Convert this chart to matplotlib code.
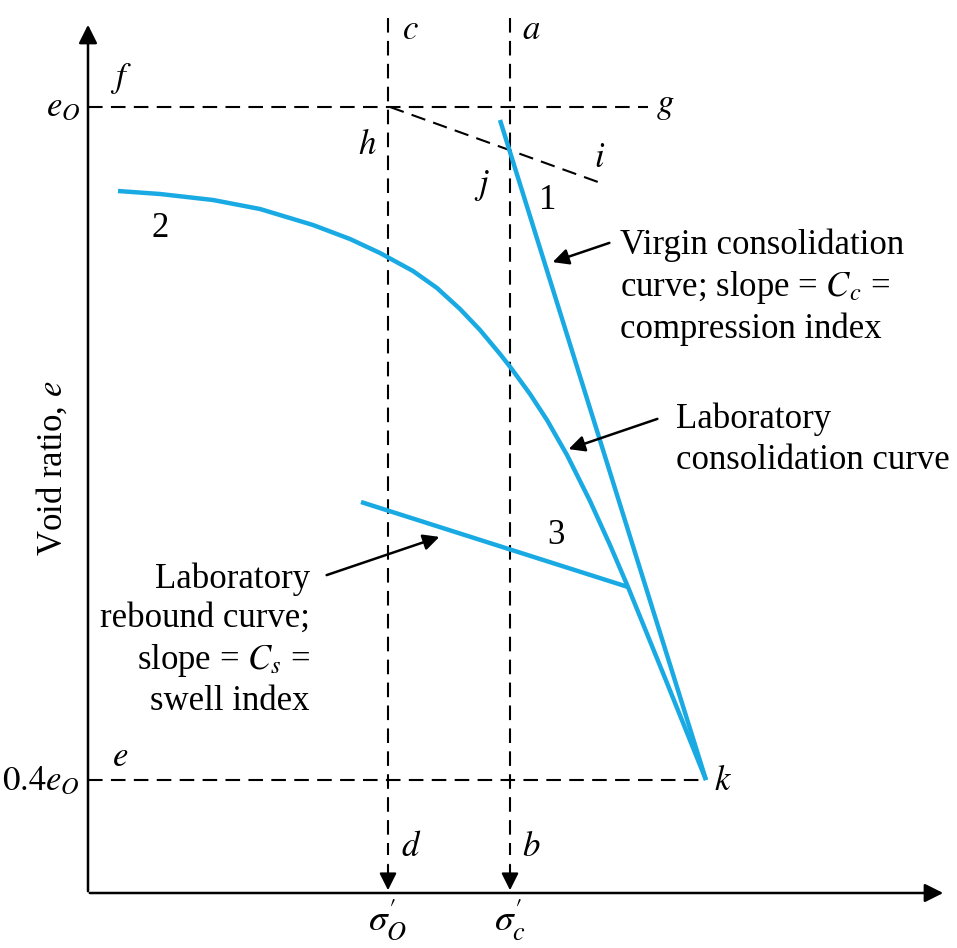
import matplotlib
matplotlib.use("Agg")
import matplotlib.pyplot as plt
import numpy as np

plt.rcParams['font.family'] = ['Liberation Serif', 'DejaVu Serif']
plt.rcParams['mathtext.fontset'] = 'stix'

# diagram coordinates (x to the right, y downward)
blue = '#1aaae3'

# laboratory consolidation curve (2)
lab_x = [118, 160, 213, 260, 313, 350, 380, 413, 437, 460, 480, 500, 511, 530, 547, 567, 590, 610, 628, 667, 706]
lab_y = [191, 194, 200, 209, 225, 239, 253, 271, 288, 309, 330, 354, 368, 394, 420, 455, 501, 545, 587, 683, 780]

# virgin consolidation curve (1)
virgin_x = [500, 706]
virgin_y = [120, 780]

# rebound curve (3)
rebound_x = [361, 628]
rebound_y = [502, 587]

# reference levels
e0_level = 107
e04_level = 780
sigma_o = 388
sigma_c = 510
hi_x = [390, 598]
hi_y = [107, 182]

fig = plt.figure(figsize=(9.57, 9.48), dpi=100)
ax = fig.add_axes([0, 0, 1, 1])
ax.set_xlim(0, 957)
ax.set_ylim(948, 0)
ax.axis('off')

fs = 25
dash = (0, (7, 4))

# axes with arrows
ax.annotate('', xy=(88, 22), xytext=(88, 894),
            arrowprops=dict(arrowstyle='-|>', lw=1.8, color='black', mutation_scale=28))
ax.annotate('', xy=(946, 893), xytext=(87, 893),
            arrowprops=dict(arrowstyle='-|>', lw=1.8, color='black', mutation_scale=28))

# horizontal dashed lines
ax.plot([88, 648], [e0_level, e0_level], color='black', lw=1.5, ls=dash)
ax.plot([88, 706], [e04_level, e04_level], color='black', lw=1.5, ls=dash)

# vertical dashed lines with arrowheads
for xv in [sigma_o, sigma_c]:
    ax.plot([xv, xv], [18, 855], color='black', lw=1.5, ls=dash)
    ax.annotate('', xy=(xv, 893), xytext=(xv, 862),
                arrowprops=dict(arrowstyle='-|>', lw=1.5, color='black', mutation_scale=26))

# h-i construction line
ax.plot(hi_x, hi_y, color='black', lw=1.5, ls=dash)

# curves
ax.plot(lab_x, lab_y, color=blue, lw=3.2, solid_capstyle='butt', solid_joinstyle='round')
ax.plot(virgin_x, virgin_y, color=blue, lw=3.2, solid_capstyle='butt')
ax.plot(rebound_x, rebound_y, color=blue, lw=3.2, solid_capstyle='butt')

# letter labels
letters = [('$c$', 402, 30), ('$a$', 522, 30), ('$f$', 110, 78), ('$g$', 656, 105),
           ('$h$', 358, 145), ('$i$', 594, 158), ('$j$', 474, 185), ('$e$', 112, 758),
           ('$k$', 714, 782), ('$d$', 401, 848), ('$b$', 522, 848)]
for s, x, y in letters:
    ax.text(x, y, s, fontsize=fs, ha='left', va='center')

for s, x, y in [('1', 548, 200), ('2', 160, 228), ('3', 556, 535)]:
    ax.text(x, y, s, fontsize=fs, ha='center', va='center')

ax.text(80, 108, '$e_O$', fontsize=fs, ha='right', va='center')
ax.text(80, 782, '$0.4e_O$', fontsize=fs, ha='right', va='center')
ax.text(sigma_o, 920, r"$\sigma^{\prime}_{O}$", fontsize=fs + 2, ha='center', va='center')
ax.text(sigma_c, 920, r"$\sigma^{\prime}_{c}$", fontsize=fs + 2, ha='center', va='center')
ax.text(52, 468, 'Void ratio, $e$', fontsize=fs, rotation=90, ha='center', va='center')

# annotations
arrow_kw = dict(arrowstyle='-|>', lw=1.8, color='black', mutation_scale=24)
ax.annotate('', xy=(550, 263), xytext=(612, 242), arrowprops=arrow_kw)
ax.text(620, 287, 'Virgin consolidation\ncurve; slope = $C_c$ =\ncompression index',
        fontsize=fs, ha='left', va='center', linespacing=1.26)

ax.annotate('', xy=(566, 450), xytext=(660, 418), arrowprops=arrow_kw)
ax.text(676, 440, 'Laboratory\nconsolidation curve',
        fontsize=fs, ha='left', va='center', linespacing=1.33)

ax.annotate('', xy=(442, 536), xytext=(324, 576), arrowprops=arrow_kw)
ax.text(310, 640, 'Laboratory\nrebound curve;\nslope = $C_s$ =\nswell index',
        fontsize=fs, ha='right', va='center', linespacing=1.25)

fig.savefig('out.png', dpi=100)
